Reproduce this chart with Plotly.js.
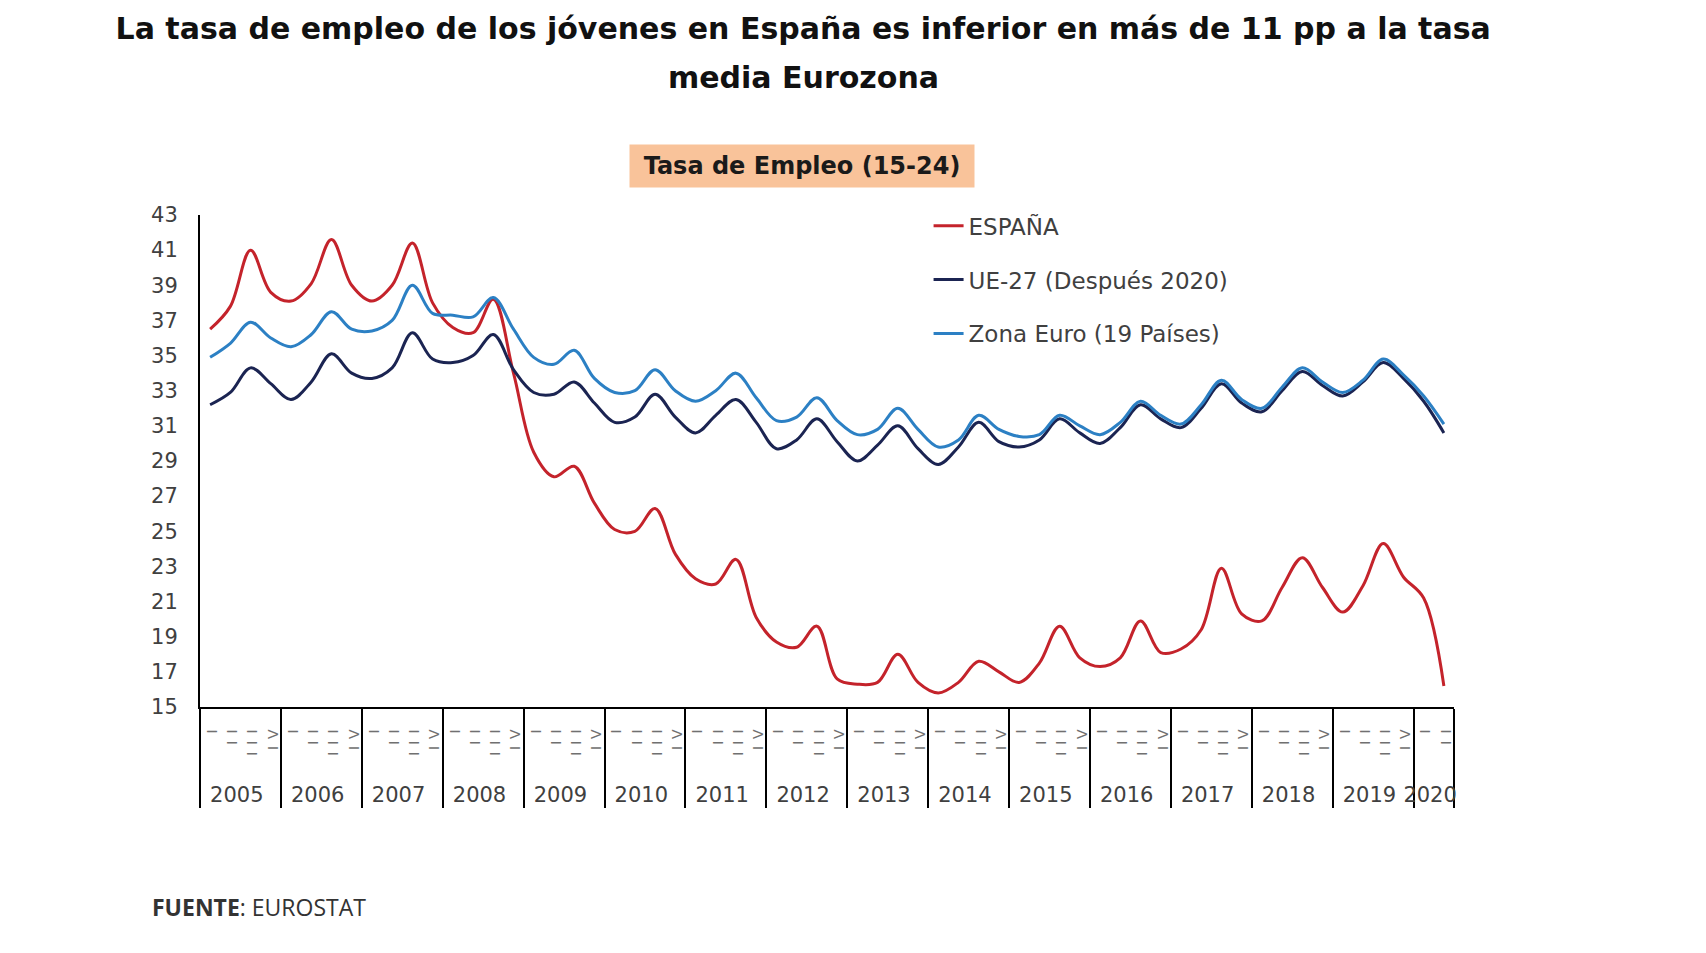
<!DOCTYPE html>
<html>
<head>
<meta charset="utf-8">
<script src="https://cdn.plot.ly/plotly-3.0.1.min.js"></script>
<style>
  html, body { margin: 0; padding: 0; background: #ffffff; }
  #chart { width: 1706px; height: 953px; }
</style>
</head>
<body>
<div id="chart"></div>
<script>
// ---- Data (Tasa de Empleo 15-24, trimestral) ----
const years = ['2005','2006','2007','2008','2009','2010','2011','2012','2013','2014','2015','2016','2017','2018','2019','2020'];
const quarters = ['I','II','III','IV'];
const lastYearQuarters = 2; // 2020: I, II

const espana = [36.5,37.8,41.0,38.6, 38.1,39.1,41.6,39.0, 38.1,39.0,41.4,38.0, 36.6,36.3,38.2,34.0,
                29.5,28.1,28.7,26.6, 25.1,25.0,26.3,23.7, 22.3,22.0,23.4,20.1, 18.7,18.4,19.6,16.6,
                16.3,16.4,18.0,16.4, 15.8,16.4,17.6,17.0, 16.4,17.5,19.6,17.8, 17.3,17.8,19.9,18.1,
                18.3,19.4,22.9,20.3, 19.9,21.8,23.5,21.8, 20.4,21.9,24.3,22.4, 21.2,16.2];
const ue27 =   [32.2,32.9,34.3,33.4, 32.5,33.5,35.1,34.0, 33.7,34.3,36.3,34.8, 34.6,35.0,36.2,34.2,
                32.9,32.8,33.5,32.3, 31.2,31.5,32.8,31.5, 30.6,31.6,32.5,31.2, 29.7,30.2,31.4,30.1,
                29.0,29.9,31.0,29.7, 28.8,29.8,31.2,30.1, 29.8,30.2,31.4,30.6, 30.0,30.9,32.2,31.4,
                30.9,32.0,33.4,32.3, 31.8,33.0,34.1,33.3, 32.7,33.5,34.6,33.7, 32.4,30.6];
const zonaEuro=[34.9,35.7,36.9,36.0, 35.5,36.2,37.5,36.5, 36.4,37.0,39.0,37.4, 37.3,37.2,38.3,36.5,
                34.9,34.5,35.3,33.7, 32.9,33.0,34.2,33.0, 32.4,33.0,34.0,32.6, 31.3,31.5,32.6,31.3,
                30.5,30.8,32.0,30.8, 29.8,30.2,31.6,30.8, 30.4,30.5,31.6,31.0, 30.5,31.2,32.4,31.6,
                31.1,32.2,33.6,32.5, 32.0,33.2,34.3,33.5, 32.9,33.6,34.8,33.9, 32.7,31.1];

const seriesNames = ['ESPAÑA', 'UE-27 (Después 2020)', 'Zona Euro (19 Países)'];
const yTicks = [15,17,19,21,23,25,27,29,31,33,35,37,39,41,43];

// ---- Styles ----
const font = "'DejaVu Sans', 'Open Sans', sans-serif";
const colors = ['#C4232B', '#1B2452', '#2C80C4'];
const quarterStyle = 'font-size:14px;letter-spacing:7px;fill:#707070';
const quarterPad = '\u00A0'; // leading room below rotated quarter labels

// ---- Build multicategory x (year, quarter) ----
const xYear = [], xQuarter = [];
years.forEach((y, yi) => {
  const nq = (yi === years.length - 1) ? lastYearQuarters : quarters.length;
  for (let q = 0; q < nq; q++) {
    xYear.push(y);
    xQuarter.push('<span style="' + quarterStyle + '">' + quarterPad + quarters[q] + '</span>');
  }
});
const xCat = [xYear, xQuarter];
const values = [espana, ue27, zonaEuro];

const traces = values.map((v, i) => ({
  type: 'scatter', mode: 'lines',
  x: xCat, y: v, name: seriesNames[i], legendgroup: 'g' + i,
  line: { color: colors[i], width: 3, shape: 'spline', smoothing: 1 }
}));

const layout = {
  width: 1706, height: 953,
  paper_bgcolor: '#ffffff', plot_bgcolor: '#ffffff',
  margin: { l: 200, r: 252, t: 215, b: 246 },
  font: { family: font, color: '#404040' },
  title: {
    text: '<b>La tasa de empleo de los jóvenes en España es inferior en más de 11 pp a la tasa</b>',
    x: 0.481, xanchor: 'center', xref: 'paper',
    y: 0.970, yanchor: 'middle', yref: 'container',
    font: { family: font, size: 30, color: '#111111' }
  },
  showlegend: true,
  legend: {
    x: 0.581, xanchor: 'left', y: 1.022, yanchor: 'top',
    font: { family: font, size: 23, color: '#404040' },
    tracegroupgap: 21, bgcolor: 'rgba(0,0,0,0)', itemwidth: 30
  },
  xaxis: {
    type: 'multicategory', range: [-0.5, 61.5],
    tickmode: 'linear', tick0: 0, dtick: 1,
    showline: true, linecolor: '#000000', linewidth: 2,
    showdividers: true, dividercolor: '#000000', dividerwidth: 2,
    showgrid: false, zeroline: false, ticks: '',
    ticklabelstandoff: 5,
    tickangle: -90, tickfont: { family: font, size: 21, color: '#404040' }
  },
  yaxis: {
    range: [15, 43], tickvals: yTicks, ticks: '',
    showline: true, linecolor: '#000000', linewidth: 2,
    showgrid: false, zeroline: false, ticklabelstandoff: 16,
    tickfont: { family: font, size: 21, color: '#404040' }
  },
  annotations: [
    { text: '<b>media Eurozona</b>', xref: 'paper', yref: 'paper',
      x: 0.481, y: (707 - 78) / 492, xanchor: 'center', yanchor: 'middle',
      showarrow: false, font: { family: font, size: 30, color: '#111111' } },
    { text: '<b>Tasa de Empleo (15-24)</b>', xref: 'paper', yref: 'paper',
      x: (802 - 200) / 1254, y: (707 - 166) / 492, xanchor: 'center', yanchor: 'middle',
      showarrow: false, bgcolor: '#F9C39A', width: 340, height: 38, borderpad: 2,
      font: { family: font, size: 24, color: '#1a1a1a' } },
    { text: '<b>FUENTE</b>: EUROSTAT', xref: 'paper', yref: 'paper',
      x: (150 - 200) / 1254, y: (707 - 907) / 492, xanchor: 'left', yanchor: 'middle',
      showarrow: false, font: { family: "'Open Sans', sans-serif", size: 23, color: '#333333' } }
  ]
};

Plotly.newPlot('chart', traces, layout, { displayModeBar: false, staticPlot: true });
</script>
</body>
</html>
